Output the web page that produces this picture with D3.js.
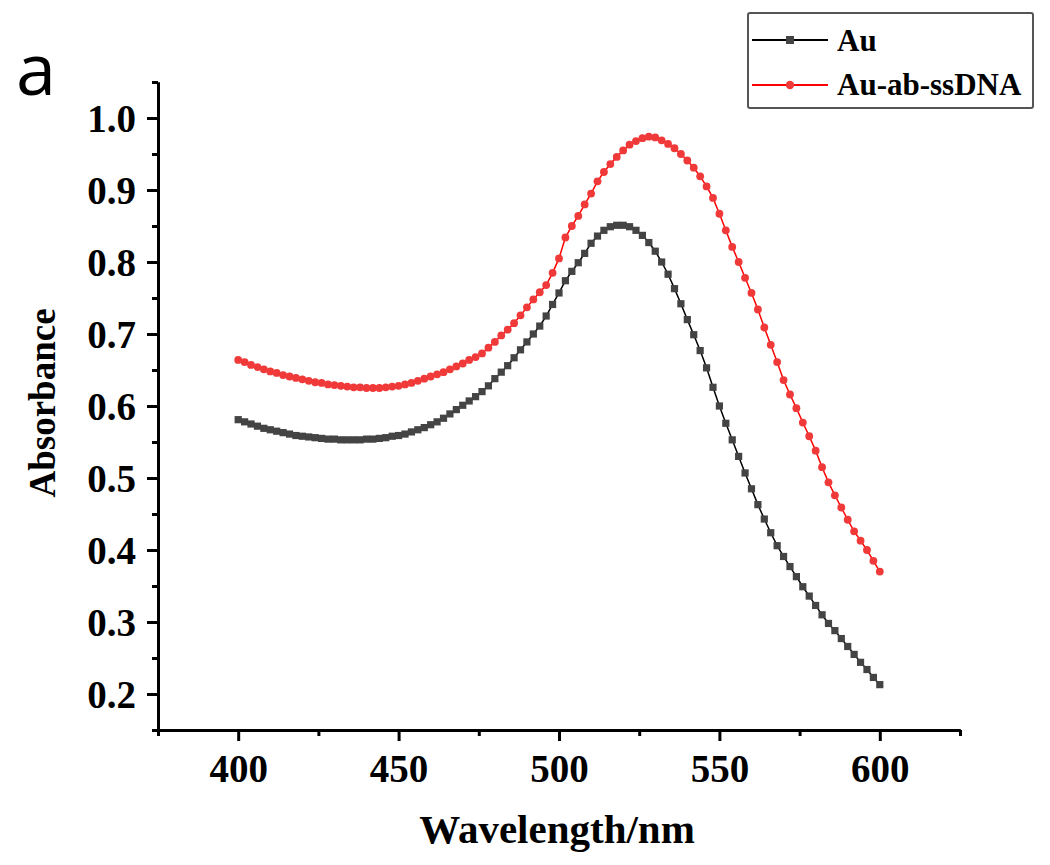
<!DOCTYPE html>
<html>
<head>
<meta charset="utf-8">
<script src="https://cdn.jsdelivr.net/npm/d3@7"></script>
<style>
  html, body { margin: 0; padding: 0; background: #fff; }
  svg { display: block; }
</style>
</head>
<body>
<svg id="chart" width="1050" height="865"></svg>
<script>
// ---- data ----
const wavelengths = [400,402,404,406,408,410,412,414,416,418,420,422,424,426,428,430,432,434,436,438,
  440,442,444,446,448,450,452,454,456,458,460,462,464,466,468,470,472,474,476,478,
  480,482,484,486,488,490,492,494,496,498,500,502,504,506,508,510,512,514,516,518,
  520,522,524,526,528,530,532,534,536,538,540,542,544,546,548,550,552,554,556,558,
  560,562,564,566,568,570,572,574,576,578,580,582,584,586,588,590,592,594,596,598,600];

const auValues = [0.581,0.578,0.575,0.572,0.569,0.567,0.565,0.563,0.561,0.559,0.558,0.557,0.556,0.555,0.554,0.554,0.553,0.553,0.553,0.553,
  0.554,0.554,0.555,0.556,0.558,0.559,0.561,0.564,0.567,0.570,0.574,0.578,0.583,0.589,0.595,0.601,0.607,0.613,0.620,0.628,
  0.638,0.647,0.656,0.667,0.678,0.689,0.700,0.711,0.725,0.741,0.757,0.774,0.787,0.799,0.812,0.826,0.836,0.844,0.849,0.851,
  0.851,0.849,0.844,0.837,0.827,0.815,0.800,0.783,0.763,0.742,0.720,0.699,0.677,0.653,0.626,0.600,0.576,0.553,0.530,0.507,
  0.485,0.463,0.443,0.424,0.406,0.391,0.377,0.363,0.349,0.336,0.323,0.310,0.298,0.288,0.277,0.266,0.255,0.244,0.234,0.223,0.213];

const auAbValues = [0.664,0.661,0.657,0.654,0.651,0.648,0.646,0.643,0.641,0.639,0.637,0.635,0.633,0.632,0.630,0.629,0.628,0.627,0.626,0.626,
  0.625,0.625,0.625,0.626,0.627,0.628,0.630,0.632,0.635,0.638,0.641,0.644,0.647,0.651,0.655,0.659,0.664,0.668,0.673,0.681,
  0.689,0.698,0.706,0.715,0.726,0.737,0.748,0.758,0.768,0.785,0.805,0.834,0.850,0.864,0.880,0.895,0.912,0.925,0.936,0.946,
  0.955,0.963,0.968,0.972,0.974,0.973,0.969,0.964,0.958,0.950,0.941,0.931,0.919,0.905,0.889,0.867,0.844,0.821,0.800,0.778,
  0.757,0.734,0.709,0.685,0.661,0.636,0.616,0.597,0.577,0.558,0.538,0.515,0.494,0.476,0.459,0.442,0.426,0.413,0.400,0.385,0.370];

const seriesNames = ["Au", "Au-ab-ssDNA"];
const xTickValues = [400, 450, 500, 550, 600];
const xMinorTicks = [375, 425, 475, 525, 575, 625];
const yTickValues = [0.2, 0.3, 0.4, 0.5, 0.6, 0.7, 0.8, 0.9, 1.0];
const yMinorTicks = [0.15, 0.25, 0.35, 0.45, 0.55, 0.65, 0.75, 0.85, 0.95, 1.05];
const xTitle = "Wavelength/nm";
const yTitle = "Absorbance";
const panelLabel = "a";

// ---- layout ----
const svg = d3.select("#chart");
svg.append("rect").attr("width", 1050).attr("height", 865).attr("fill", "#fff");

const x = d3.scaleLinear().domain([375, 625]).range([158, 960]);
const y = d3.scaleLinear().domain([0.15, 1.05]).range([730, 82]);

const serif = "'Liberation Serif', 'Times New Roman', serif";

// axes
const gx = svg.append("g").attr("transform", "translate(0,730)");
gx.call(d3.axisBottom(x).tickValues(xTickValues).tickSize(11).tickSizeOuter(0).tickFormat(d3.format("d")));
const gxMinor = svg.append("g").attr("transform", "translate(0,730)");
gxMinor.call(d3.axisBottom(x).tickValues(xMinorTicks).tickSize(6).tickSizeOuter(0).tickFormat(""));

const gy = svg.append("g").attr("transform", "translate(158,0)");
gy.call(d3.axisLeft(y).tickValues(yTickValues).tickSize(11).tickSizeOuter(0).tickFormat(d3.format(".1f")));
const gyMinor = svg.append("g").attr("transform", "translate(158,0)");
gyMinor.call(d3.axisLeft(y).tickValues(yMinorTicks).tickSize(6).tickSizeOuter(0).tickFormat(""));

[gx, gxMinor, gy, gyMinor].forEach(g => {
  g.selectAll(".domain").attr("stroke", "#000").attr("stroke-width", 3);
  g.selectAll(".tick line").attr("stroke", "#000").attr("stroke-width", 3);
});
gx.selectAll(".tick text")
  .attr("font-family", serif).attr("font-weight", "bold").attr("font-size", 39)
  .attr("fill", "#000").attr("dy", "0").attr("y", 52);
gy.selectAll(".tick text")
  .attr("font-family", serif).attr("font-weight", "bold").attr("font-size", 39)
  .attr("fill", "#000").attr("x", -22).attr("dy", "0.34em");

// axis titles
svg.append("text").attr("x", 557).attr("y", 843)
  .attr("text-anchor", "middle").attr("font-family", serif).attr("font-weight", "bold")
  .attr("font-size", 41).attr("fill", "#000").text(xTitle);
svg.append("text").attr("transform", "translate(55,403) rotate(-90)")
  .attr("text-anchor", "middle").attr("font-family", serif).attr("font-weight", "bold")
  .attr("font-size", 37).attr("fill", "#000").text(yTitle);

// panel label
svg.append("text").attr("x", 16).attr("y", 95)
  .attr("font-family", "'Open Sans', 'Noto Sans', sans-serif")
  .attr("font-size", 72).attr("fill", "#000").text(panelLabel);

// ---- series ----
const auData = wavelengths.map((w, i) => [w, auValues[i]]);
const auAbData = wavelengths.map((w, i) => [w, auAbValues[i]]);
const line = d3.line().x(d => x(d[0])).y(d => y(d[1]));

const series = [
  { name: seriesNames[0], data: auData, line: "#000", marker: "#444", shape: "square" },
  { name: seriesNames[1], data: auAbData, line: "#ff0000", marker: "#f03a3a", shape: "circle" }
];

series.forEach(s => {
  svg.append("path").datum(s.data).attr("d", line)
    .attr("fill", "none").attr("stroke", s.line).attr("stroke-width", 1.5);
  const g = svg.append("g");
  if (s.shape === "square") {
    g.selectAll("rect").data(s.data).join("rect")
      .attr("x", d => x(d[0]) - 3.6).attr("y", d => y(d[1]) - 3.6)
      .attr("width", 7.2).attr("height", 7.2).attr("fill", s.marker);
  } else {
    g.selectAll("circle").data(s.data).join("circle")
      .attr("cx", d => x(d[0])).attr("cy", d => y(d[1])).attr("r", 3.9)
      .attr("fill", s.marker);
  }
});

// ---- legend ----
const lg = svg.append("g");
lg.append("rect").attr("x", 748).attr("y", 13).attr("width", 285).attr("height", 95)
  .attr("fill", "#fff").attr("stroke", "#555").attr("stroke-width", 2).attr("rx", 2);
const legendRows = [
  { s: series[0], cy: 40, ty: 51 },
  { s: series[1], cy: 85, ty: 95 }
];
legendRows.forEach(r => {
  lg.append("line").attr("x1", 752).attr("x2", 828).attr("y1", r.cy).attr("y2", r.cy)
    .attr("stroke", r.s.line).attr("stroke-width", 2);
  if (r.s.shape === "square") {
    lg.append("rect").attr("x", 786).attr("y", r.cy - 4).attr("width", 8).attr("height", 8).attr("fill", r.s.marker);
  } else {
    lg.append("circle").attr("cx", 790).attr("cy", r.cy).attr("r", 4.2).attr("fill", r.s.marker);
  }
  lg.append("text").attr("x", 837).attr("y", r.ty)
    .attr("font-family", serif).attr("font-weight", "bold").attr("font-size", 31)
    .attr("fill", "#000").text(r.s.name);
});
</script>
</body>
</html>
